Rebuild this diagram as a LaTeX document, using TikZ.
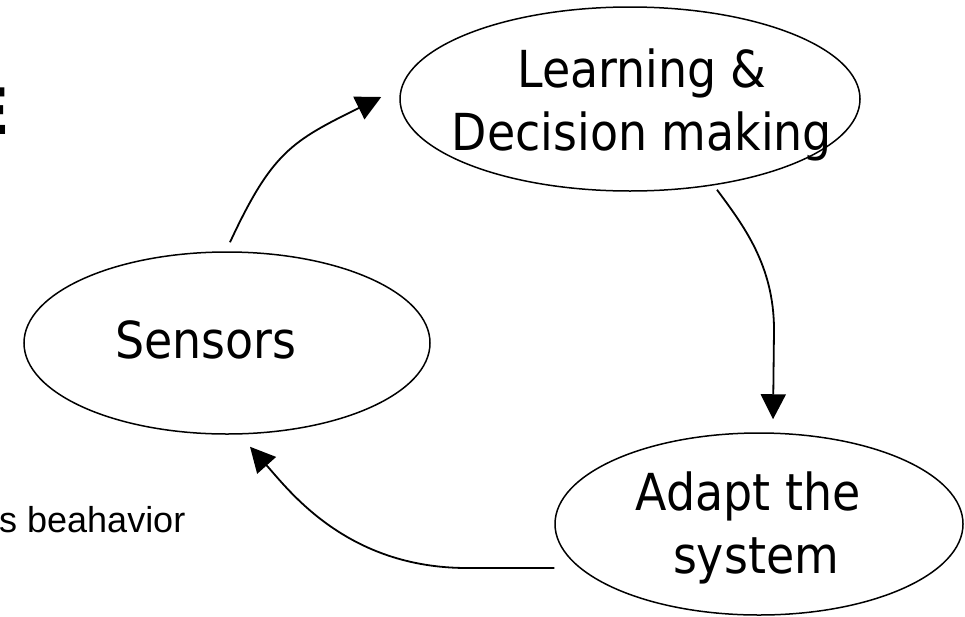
\documentclass[tikz,border=0pt]{standalone}
\usepackage{fontspec}
\setmainfont{DejaVu Sans Condensed}
\newfontfamily\notefont{Liberation Sans}
\newfontfamily\titlefont{DejaVu Sans}
\usetikzlibrary{shapes.geometric,arrows.meta,calc}
\begin{document}
\begin{tikzpicture}[x=1pt,y=-1pt,
  bubble/.style={ellipse,draw,line width=1.5pt,inner sep=0pt},
  lbl/.style={anchor=base,inner sep=0pt,font=\fontsize{51}{60}\selectfont},
  conn/.style={line width=1.8pt,-{Triangle[length=25pt,width=25pt]}},
  ]
\useasboundingbox (0,0) rectangle (965,616);
\clip (0,0) rectangle (965,616);

% partially visible texts at the left edge
\node[anchor=base west,inner sep=0pt,font=\titlefont\bfseries\fontsize{64}{70}\selectfont] (ttl) at (-34,134) {E};
\node[anchor=base west,inner sep=0pt,font=\notefont\fontsize{36}{40}\selectfont] (note) at (-1,532) {s beahavior};

% ellipses
\node[bubble,minimum width=460pt,minimum height=184pt] (learn) at (630,99) {};
\node[bubble,minimum width=406pt,minimum height=182pt] (sen) at (227,343) {};
\node[bubble,minimum width=408pt,minimum height=182pt] (adapt) at (759,524) {};

% labels
\node[lbl] (learn1) at (642,87) {Learning \&};
\node[lbl] (learn2) at (642,150) {Decision making};
\node[lbl] (sent) at (206,358) {Sensors};
\node[lbl] (adapt1) at (748,510) {Adapt the};
\node[lbl] (adapt2) at (756,573) {system};

% connectors
\draw[conn] ($(sen.north)+(3,-9)$) .. controls (272,152) and (292,141) .. ($(learn.west)+(-18,-2)$);
\draw[conn] ($(learn.south)+(87,-2)$) .. controls (743,225) and (774,265) .. (774,330) -- ($(adapt.north)+(14,-13)$);
\draw[conn] ($(adapt.west)+(0,44)$) -- (467,568) .. controls (347,568) and (289.5,491) .. ($(sen.south)+(23,12)$);
\end{tikzpicture}
\end{document}
